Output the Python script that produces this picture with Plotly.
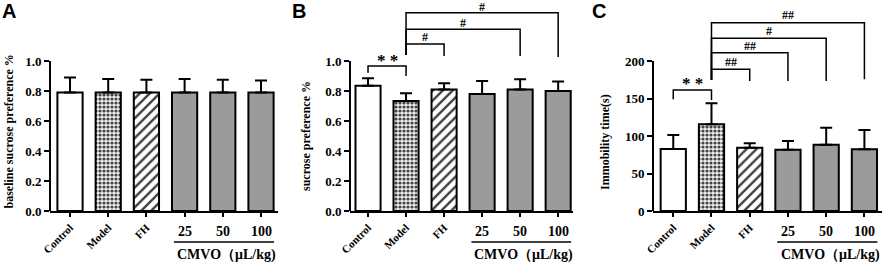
import plotly.graph_objects as go

# ---------------- data ----------------
categories = ["Control", "Model", "FH", "25", "50", "100"]
rotated_labels = ["Control", "Model", "FH", "", "", ""]
dose_labels = ["25", "50", "100"]

a_values = [0.79, 0.79, 0.79, 0.79, 0.79, 0.79]
a_errors = [0.10, 0.09, 0.085, 0.09, 0.085, 0.08]

b_values = [0.835, 0.733, 0.81, 0.78, 0.81, 0.80]
b_errors = [0.05, 0.052, 0.041, 0.087, 0.068, 0.064]

c_values = [82.7, 115.6, 84.4, 81.8, 88.4, 82.2]
c_errors = [18.6, 28.0, 5.8, 11.5, 22.6, 25.8]

y_titles = ["baseline sucrose preference %", "sucrose preference %", "Immobility time(s)"]
panel_letters = ["A", "B", "C"]

a_ticks = [0.0, 0.2, 0.4, 0.6, 0.8, 1.0]
b_ticks = [0.0, 0.2, 0.4, 0.6, 0.8, 1.0]
c_ticks = [0, 50, 100, 150, 200]

# significance brackets: from, to, bar height, left leg bottom, right leg bottom, label, label height
b_br_from = [0, 1, 1, 1]
b_br_to = [1, 2, 4, 5]
b_br_y = [0.967, 1.113, 1.211, 1.322]
b_br_left = [0.922, 1.04, 1.04, 1.04]
b_br_right = [0.90, 1.033, 1.033, 1.027]
b_br_text = ["* *", "#", "#", "#"]
b_br_text_y = [1.0, 1.16, 1.255, 1.362]

c_br_from = [0, 1, 1, 1, 1]
c_br_to = [1, 2, 3, 4, 5]
c_br_y = [161.3, 188.9, 211.1, 230.3, 251.1]
c_br_left = [149, 174.7, 174.7, 174.7, 174.7]
c_br_right = [148, 173.3, 173.3, 173.3, 175.6]
c_br_text = ["* *", "##", "##", "#", "##"]
c_br_text_y = [170, 199, 220, 240, 261]

# ---------------- layout geometry ----------------
W, H = 886, 264
x_domains_px = [(50, 278), (350, 573), (653, 882)]
x_ranges = [(-0.524, 5.445), (-0.474, 5.39), (-0.53, 5.46)]
y_bottom_px, y_top_px = 211, 5
y_ranges = [(0, 1.3733), (0, 1.3733), (0, 274.67)]
y_lines_top = [1.0, 1.0, 200]
y_title_px = [(8.5, 132), (306, 136), (605, 142)]
letter_px = [0, 290, 590]

SERIF = "Liberation Serif, Times New Roman, serif"
SANS = "Liberation Sans, Arial, sans-serif"
GRAY = "#9b9b9b"

fig = go.Figure()

datasets = [(a_values, a_errors), (b_values, b_errors), (c_values, c_errors)]
tick_sets = [a_ticks, b_ticks, c_ticks]
tick_formats = [".1f", ".1f", "d"]


def px_x(p):
    return p / W


def px_y(p):
    return (H - p) / H


colors = ["white", "#f0f0f0", "white", GRAY, GRAY, GRAY]
pat_shapes = ["", ".", "/", "", "", ""]
pat_fg = ["black", "#c4c4c4", "#8c8c8c", "black", "black", "black"]
pat_size = [6, 4, 7, 6, 6, 6]
pat_sol = [0.3, 0.5, 0.35, 0.3, 0.3, 0.3]

shapes = []
annotations = []

for k, (vals, errs) in enumerate(datasets):
    xa = "x" if k == 0 else f"x{k+1}"
    ya = "y" if k == 0 else f"y{k+1}"
    fig.add_trace(go.Bar(
        x=list(range(len(categories))), y=vals,
        width=0.66,
        marker=dict(
            color=colors,
            line=dict(color="black", width=2),
            pattern=dict(shape=pat_shapes, fgcolor=pat_fg, fgopacity=1,
                         size=pat_size, solidity=pat_sol),
        ),
        error_y=dict(type="data", symmetric=False, array=errs,
                     arrayminus=[0] * len(errs), color="black",
                     thickness=2, width=6),
        xaxis=xa, yaxis=ya, showlegend=False, hoverinfo="skip",
    ))

    xkey = "xaxis" if k == 0 else f"xaxis{k+1}"
    ykey = "yaxis" if k == 0 else f"yaxis{k+1}"
    d0, d1 = x_domains_px[k]
    fig.layout[xkey] = dict(
        domain=[px_x(d0), px_x(d1)], range=list(x_ranges[k]), anchor=ya,
        automargin=False,
        tickmode="array", tickvals=list(range(len(categories))),
        ticktext=rotated_labels, tickangle=-45,
        tickfont=dict(family=SERIF, size=11, color="black", weight="bold"),
        ticks="outside", ticklen=4, tickwidth=2, tickcolor="black",
        showline=True, linecolor="black", linewidth=2,
        showgrid=False, zeroline=False, fixedrange=True,
    )
    fig.layout[ykey] = dict(
        domain=[px_y(y_bottom_px), px_y(y_top_px)], range=list(y_ranges[k]),
        anchor=xa, automargin=False,
        tickmode="array", tickvals=tick_sets[k],
        tickformat=tick_formats[k],
        tickfont=dict(family=SERIF, size=13, color="black", weight="bold"),
        ticks="outside", ticklen=5, tickwidth=2, tickcolor="black",
        showline=False, showgrid=False, zeroline=False, fixedrange=True,
    )
    # y axis line only up to the top tick
    shapes.append(dict(type="line", xref=f"{xa} domain", yref=ya,
                       x0=0, x1=0, y0=0, y1=y_lines_top[k],
                       line=dict(color="black", width=2)))
    # underline of dose group
    shapes.append(dict(type="line", xref=xa, yref="paper",
                       x0=2.72, x1=5.34, y0=px_y(242), y1=px_y(242),
                       line=dict(color="black", width=1.5)))
    for i, lab in enumerate(dose_labels):
        annotations.append(dict(x=3 + i, y=px_y(231.5), xref=xa, yref="paper",
                                text=lab, showarrow=False,
                                font=dict(family=SERIF, size=14, color="black", weight="bold"),
                                xanchor="center", yanchor="middle"))
    annotations.append(dict(x=4.1, y=px_y(255), xref=xa, yref="paper",
                            text="CMVO（μL/kg)", showarrow=False,
                            font=dict(family=SERIF, size=14, color="black", weight="bold"),
                            xanchor="center", yanchor="middle"))
    # y title
    tx, ty = y_title_px[k]
    annotations.append(dict(x=px_x(tx), y=px_y(ty), xref="paper", yref="paper",
                            text=y_titles[k], textangle=-90, showarrow=False,
                            font=dict(family=SERIF, size=12, color="black", weight="bold"),
                            xanchor="center", yanchor="middle"))
    # panel letter
    annotations.append(dict(x=px_x(letter_px[k]), y=1.0, xref="paper", yref="paper",
                            text=panel_letters[k], showarrow=False,
                            font=dict(family=SANS, size=20, color="black", weight="bold"),
                            xanchor="left", yanchor="top", yshift=2))


def add_brackets(xa, ya, frm, to, ybar, yl, yr, texts, ty, size_hash):
    for f, t, yb, l, r, txt, tyy in zip(frm, to, ybar, yl, yr, texts, ty):
        shapes.append(dict(type="path", xref=xa, yref=ya,
                           path=f"M {f} {l} L {f} {yb} L {t} {yb} L {t} {r}",
                           line=dict(color="black", width=1.5)))
        is_star = "*" in txt
        annotations.append(dict(x=(f + t) / 2, y=tyy, xref=xa, yref=ya, text=txt,
                                showarrow=False,
                                font=dict(family=SERIF, size=(17 if is_star else size_hash),
                                          color="black", weight="bold"),
                                xanchor="center", yanchor="middle"))


add_brackets("x2", "y2", b_br_from, b_br_to, b_br_y, b_br_left, b_br_right,
             b_br_text, b_br_text_y, 12)
add_brackets("x3", "y3", c_br_from, c_br_to, c_br_y, c_br_left, c_br_right,
             c_br_text, c_br_text_y, 12)

fig.update_layout(
    width=W, height=H,
    margin=dict(l=0, r=0, t=0, b=0, autoexpand=False),
    paper_bgcolor="white", plot_bgcolor="white",
    bargap=0.3,
    shapes=shapes, annotations=annotations,
)

fig.write_html("out.html",
               config={"displayModeBar": False, "staticPlot": True},
               post_script="document.body.style.margin='0';document.body.style.overflow='hidden';")
